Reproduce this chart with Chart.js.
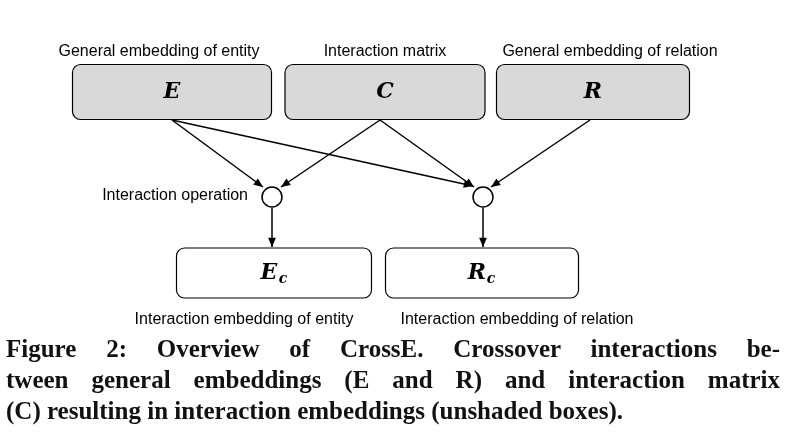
<!DOCTYPE html>
<html>
<head>
<meta charset="utf-8">
<script src="https://cdn.jsdelivr.net/npm/chart.js@4"></script>
<style>
  body { margin: 0; background: #fff; }
  #wrap { position: relative; width: 787px; height: 444px; }
  #caption {
    position: absolute; left: 6px; top: 333px; width: 774px;
    font-family: "Liberation Serif", "DejaVu Serif", serif; font-weight: bold;
    font-size: 25px; line-height: 31px; color: #111;
  }
  #caption span { display: block; text-align: justify; text-align-last: justify; }
  #caption span.last { text-align-last: left; }
</style>
</head>
<body>
<div id="wrap">
  <canvas id="c" width="787" height="444"></canvas>
  <div id="caption"><span>Figure 2: Overview of CrossE. Crossover interactions be-</span><span>tween general embeddings (E and R) and interaction matrix</span><span class="last">(C) resulting in interaction embeddings (unshaded boxes).</span></div>
</div>
<script>
// boxes: label, sub, centre x, centre y, width, height, shaded, caption
const boxNames = ['E', 'C', 'R', 'E', 'R'];
const boxSubs = ['', '', '', 'c', 'c'];
const boxX = [172, 385, 593, 274, 482];
const boxY = [92, 92, 92, 273, 273];
const boxW = [199, 200, 193, 195, 193];
const boxH = [55, 55, 55, 50, 50];
const boxShaded = [true, true, true, false, false];
const boxCaptions = ['General embedding of entity', 'Interaction matrix', 'General embedding of relation',
  'Interaction embedding of entity', 'Interaction embedding of relation'];
const captionX = [159, 385, 610, 244, 517];

// interaction operation nodes
const opX = [272, 483];
const opY = [197, 197];

// arrows: from (x,y) to (x,y)
const arrowFrom = [[172, 120], [172, 120], [380, 120], [380, 120], [590, 120], [272, 208], [483, 208]];
const arrowTo = [[263, 187], [473, 186], [281, 187], [474, 187], [491, 187], [272, 247], [483, 247]];

const arrowSets = arrowFrom.map((f, i) => ({
  type: 'line',
  data: [{ x: f[0], y: f[1] }, { x: arrowTo[i][0], y: arrowTo[i][1] }],
  borderColor: '#000', borderWidth: 1.5, pointRadius: 0, showLine: true, arrow: true
}));

const diagram = {
  id: 'diagram',
  beforeDatasetsDraw(chart) {
    const { ctx, scales: { x, y } } = chart;
    ctx.save();
    boxNames.forEach((n, i) => {
      const l = x.getPixelForValue(boxX[i] - boxW[i] / 2), t = y.getPixelForValue(boxY[i] - boxH[i] / 2);
      const w = boxW[i], h = boxH[i];
      ctx.beginPath();
      ctx.roundRect(l, t, w, h, 8);
      ctx.fillStyle = boxShaded[i] ? '#d9d9d9' : '#fff';
      ctx.fill();
      ctx.lineWidth = 1.2; ctx.strokeStyle = '#000'; ctx.stroke();
      const cx = x.getPixelForValue(boxX[i]), cy = y.getPixelForValue(boxY[i]);
      ctx.fillStyle = '#000';
      ctx.font = 'italic bold 22px "DejaVu Serif", serif';
      ctx.textAlign = 'center'; ctx.textBaseline = 'middle';
      if (boxSubs[i]) {
        ctx.fillText(n, cx - 5, cy);
        ctx.font = 'italic bold 14px "DejaVu Serif", serif';
        ctx.fillText(boxSubs[i], cx + 9, cy + 6);
      } else ctx.fillText(n, cx, cy);
      ctx.font = '16px "Liberation Sans", Arial, sans-serif';
      const capY = i < 3 ? t - 13 : t + h + 22;
      ctx.fillText(boxCaptions[i], x.getPixelForValue(captionX[i]), capY);
    });
    ctx.textAlign = 'right';
    ctx.fillText('Interaction operation', x.getPixelForValue(248), y.getPixelForValue(196));
    ctx.restore();
  },
  afterDatasetsDraw(chart) {
    const { ctx } = chart;
    ctx.save();
    chart.data.datasets.forEach((ds, i) => {
      if (!ds.arrow) return;
      const pts = chart.getDatasetMeta(i).data;
      const a = pts[0], b = pts[1];
      const ang = Math.atan2(b.y - a.y, b.x - a.x);
      ctx.beginPath();
      ctx.moveTo(b.x, b.y);
      ctx.lineTo(b.x - 10 * Math.cos(ang - 0.4), b.y - 10 * Math.sin(ang - 0.4));
      ctx.lineTo(b.x - 10 * Math.cos(ang + 0.4), b.y - 10 * Math.sin(ang + 0.4));
      ctx.closePath();
      ctx.fillStyle = '#000'; ctx.fill();
    });
    ctx.restore();
  }
};

new Chart(document.getElementById('c'), {
  type: 'scatter',
  data: {
    datasets: [...arrowSets, {
      data: opX.map((v, i) => ({ x: v, y: opY[i] })),
      pointRadius: 10, pointBackgroundColor: '#fff', pointBorderColor: '#000', pointBorderWidth: 1.5
    }]
  },
  options: {
    responsive: false, animation: false,
    layout: { padding: 0, autoPadding: false },
    plugins: { legend: { display: false }, tooltip: { enabled: false } },
    scales: {
      x: { type: 'linear', min: 0, max: 787, display: false },
      y: { type: 'linear', min: 0, max: 444, reverse: true, display: false }
    }
  },
  plugins: [diagram]
});
</script>
</body>
</html>
